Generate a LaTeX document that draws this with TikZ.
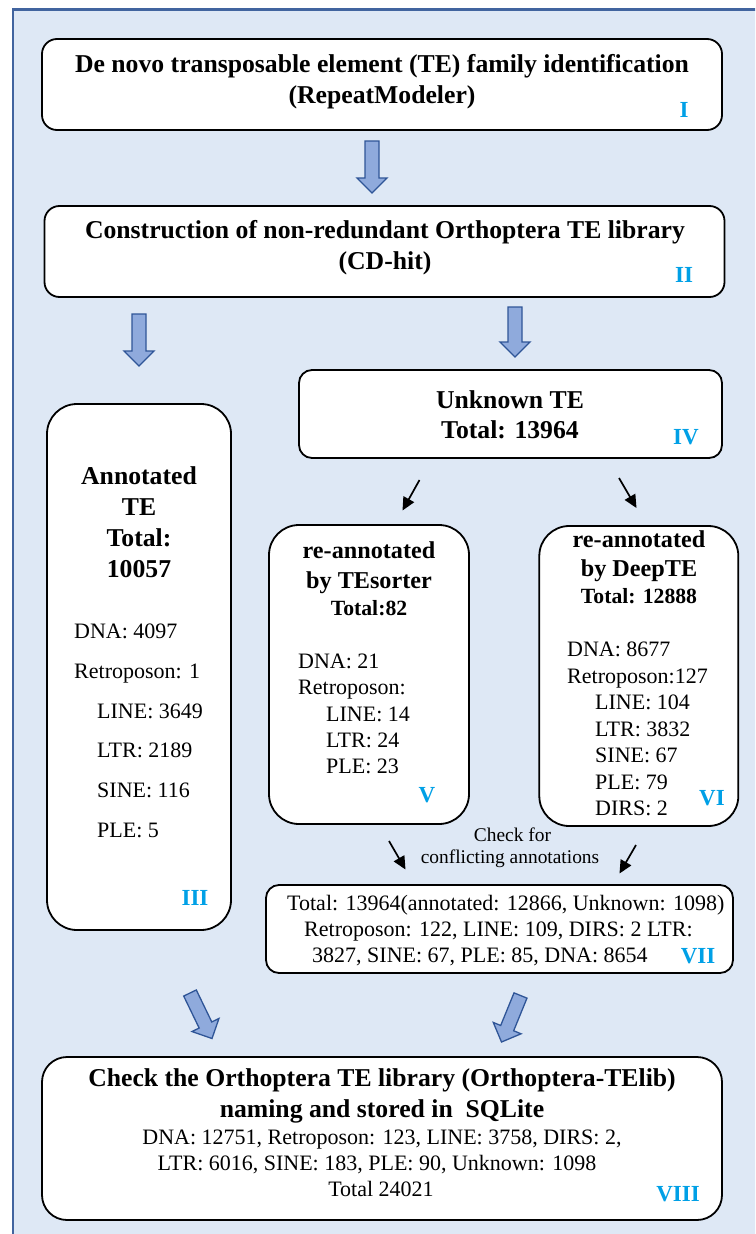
\documentclass[tikz,border=0pt]{standalone}
\usepackage{fontspec}
\setmainfont{Liberation Serif}
\usetikzlibrary{calc,arrows.meta}
\definecolor{bgblue}{HTML}{DEE8F5}
\definecolor{frameblue}{HTML}{41649F}
\definecolor{arrfill}{HTML}{8FAADC}
\definecolor{arrline}{HTML}{2F5597}
\definecolor{labcyan}{HTML}{00A0E6}
\tikzset{
  box/.style={draw=black, fill=white, line width=1.8pt, inner sep=0pt},
  ttl/.style={font=\fontsize{25.7}{30}\selectfont\bfseries, anchor=base, inner sep=0pt},
  sttl/.style={font=\fontsize{24.2}{28}\selectfont\bfseries, anchor=base, inner sep=0pt},
  tot/.style={font=\fontsize{21.7}{26}\selectfont\bfseries, anchor=base, inner sep=0pt},
  itm/.style={font=\fontsize{22}{26}\selectfont, anchor=base west, inner sep=0pt},
  ctr/.style={font=\fontsize{22}{26}\selectfont, anchor=base, inner sep=0pt},
  chk/.style={font=\fontsize{19.4}{23}\selectfont, anchor=base, inner sep=0pt},
  lab/.style={font=\fontsize{23}{26}\selectfont\bfseries, text=labcyan, anchor=base, inner sep=0pt},
  barrow/.style={fill=arrfill, draw=arrline, line width=1.3pt, line join=miter},
  thinarr/.style={line width=1.7pt, -{Triangle[length=13pt,width=12pt]}}
}
\newcommand\blockarr[2]{%
  \coordinate (hb) at ($(#2)!15pt!(#1)$);
  \draw[barrow] ($(#1)!7pt!90:(#2)$) -- ($(hb)!7pt!90:(#2)$) -- ($(hb)!15pt!90:(#2)$)
    -- (#2) -- ($(hb)!15pt!-90:(#2)$) -- ($(hb)!7pt!-90:(#2)$) -- ($(#1)!7pt!-90:(#2)$) -- cycle;
}
\begin{document}
\begin{tikzpicture}[x=1pt,y=-1pt]
\path[use as bounding box] (0,0) rectangle (755,1234);
\clip (0,0) rectangle (755,1234);
\draw[fill=bgblue, draw=frameblue, line width=2.4pt] (13,9.5) rectangle (790,1270);

% Box I
\node[box, rounded corners=15pt, minimum width=680pt, minimum height=91pt] (b1) at (382,84.5) {};
\node[ttl] (t1a) at (382,72) {De novo transposable element (TE) family identification};
\node[ttl] (t1b) at (382,103) {(RepeatModeler)};
\node[lab] (l1) at (684,117) {I};

% Box II
\node[box, rounded corners=15pt, minimum width=680pt, minimum height=91pt] (b2) at (384.5,251.5) {};
\node[ttl] (t2a) at (385,238) {Construction of non-redundant Orthoptera TE library};
\node[ttl] (t2b) at (385,269) {(CD-hit)};
\node[lab] (l2) at (684,282) {II};

% Box III
\node[box, rounded corners=30pt, minimum width=184pt, minimum height=526pt] (b3) at (139,667) {};
\node[ttl] (t3a) at (139,484) {Annotated};
\node[ttl] (t3b) at (139,515) {TE};
\node[ttl] (t3c) at (139,546) {Total:};
\node[ttl] (t3d) at (139,577) {10057};
\node[itm] (i3a) at (74,638) {DNA: 4097};
\node[itm] (i3b) at (74,678) {Retroposon: 1};
\node[itm] (i3c) at (97,718) {LINE: 3649};
\node[itm] (i3d) at (97,757) {LTR: 2189};
\node[itm] (i3e) at (97,797) {SINE: 116};
\node[itm] (i3f) at (97,837) {PLE: 5};
\node[lab] (l3) at (195,905) {III};

% Box IV
\node[box, rounded corners=13pt, minimum width=423pt, minimum height=88pt] (b4) at (510.5,414) {};
\node[ttl] (t4a) at (510,408) {Unknown TE};
\node[ttl] (t4b) at (510,438) {Total: 13964};
\node[lab] (l4) at (686,444) {IV};

% Box V
\node[box, rounded corners=30pt, minimum width=200pt, minimum height=299pt] (b5) at (369,674.5) {};
\node[sttl] (t5a) at (369,558) {re-annotated};
\node[sttl] (t5b) at (369,588) {by TEsorter};
\node[tot] (t5c) at (369,615) {Total:82};
\node[itm] (i5a) at (298,668) {DNA: 21};
\node[itm] (i5b) at (298,694) {Retroposon:};
\node[itm] (i5c) at (326,721) {LINE: 14};
\node[itm] (i5d) at (326,747) {LTR: 24};
\node[itm] (i5e) at (326,773) {PLE: 23};
\node[lab] (l5) at (427,802) {V};

% Box VI
\node[box, rounded corners=30pt, minimum width=199pt, minimum height=300pt] (b6) at (638.8,676) {};
\node[sttl] (t6a) at (639,547) {re-annotated};
\node[sttl] (t6b) at (639,576) {by DeepTE};
\node[tot] (t6c) at (639,603) {Total: 12888};
\node[itm] (i6a) at (567,656) {DNA: 8677};
\node[itm] (i6b) at (567,683) {Retroposon:127};
\node[itm] (i6c) at (595,709) {LINE: 104};
\node[itm] (i6d) at (595,736) {LTR: 3832};
\node[itm] (i6e) at (595,762) {SINE: 67};
\node[itm] (i6f) at (595,789) {PLE: 79};
\node[itm] (i6g) at (595,815) {DIRS: 2};
\node[lab] (l6) at (712,805) {VI};

% Check text
\node[chk] (c1) at (512.5,841) {Check for};
\node[chk] (c2) at (510,863) {conflicting annotations};

% Box VII
\node[box, rounded corners=13pt, minimum width=467pt, minimum height=88pt] (b7) at (499.5,929) {};
\node[itm] (t7a) at (287,910) {Total: 13964(annotated: 12866, Unknown: 1098)};
\node[itm] (t7b) at (304,936) {Retroposon: 122, LINE: 109, DIRS: 2 LTR:};
\node[itm] (t7c) at (312,962) {3827, SINE: 67, PLE: 85, DNA: 8654};
\node[lab] (l7) at (698,963) {VII};

% Box VIII
\node[box, rounded corners=25pt, minimum width=680pt, minimum height=163pt] (b8) at (382,1138.5) {};
\node[ttl] (t8a) at (382,1086) {Check the Orthoptera TE library (Orthoptera-TElib)};
\node[ttl] (t8b) at (382,1117) {naming and stored in\ \ SQLite};
\node[ctr] (t8c) at (382,1144) {DNA: 12751, Retroposon: 123, LINE: 3758, DIRS: 2,};
\node[ctr] (t8d) at (377,1170) {LTR: 6016, SINE: 183, PLE: 90, Unknown: 1098};
\node[ctr] (t8e) at (381,1196) {Total 24021};
\node[lab] (l8) at (678,1201) {VIII};

% Block arrows
\coordinate (a1s) at (372,141);   \coordinate (a1e) at (372,193);
\coordinate (a2s) at (139,314);   \coordinate (a2e) at (139,366);
\coordinate (a3s) at (515,307);   \coordinate (a3e) at (515,357);
\coordinate (a4s) at (190,993);   \coordinate (a4e) at (212,1038.5);
\coordinate (a5s) at (520.5,995.5); \coordinate (a5e) at (501.5,1042);
\blockarr{a1s}{a1e}
\blockarr{a2s}{a2e}
\blockarr{a3s}{a3e}
\blockarr{a4s}{a4e}
\blockarr{a5s}{a5e}

% Thin arrows
\coordinate (s1) at (419.5,480); \coordinate (e1) at (402.5,510.5);
\coordinate (s2) at (619,478);   \coordinate (e2) at (636.5,508);
\coordinate (s3) at (389,841);   \coordinate (e3) at (405.5,869.5);
\coordinate (s4) at (636,845);   \coordinate (e4) at (619.5,873.5);
\draw[thinarr] (s1) -- (e1);
\draw[thinarr] (s2) -- (e2);
\draw[thinarr] (s3) -- (e3);
\draw[thinarr] (s4) -- (e4);
\end{tikzpicture}
\end{document}
